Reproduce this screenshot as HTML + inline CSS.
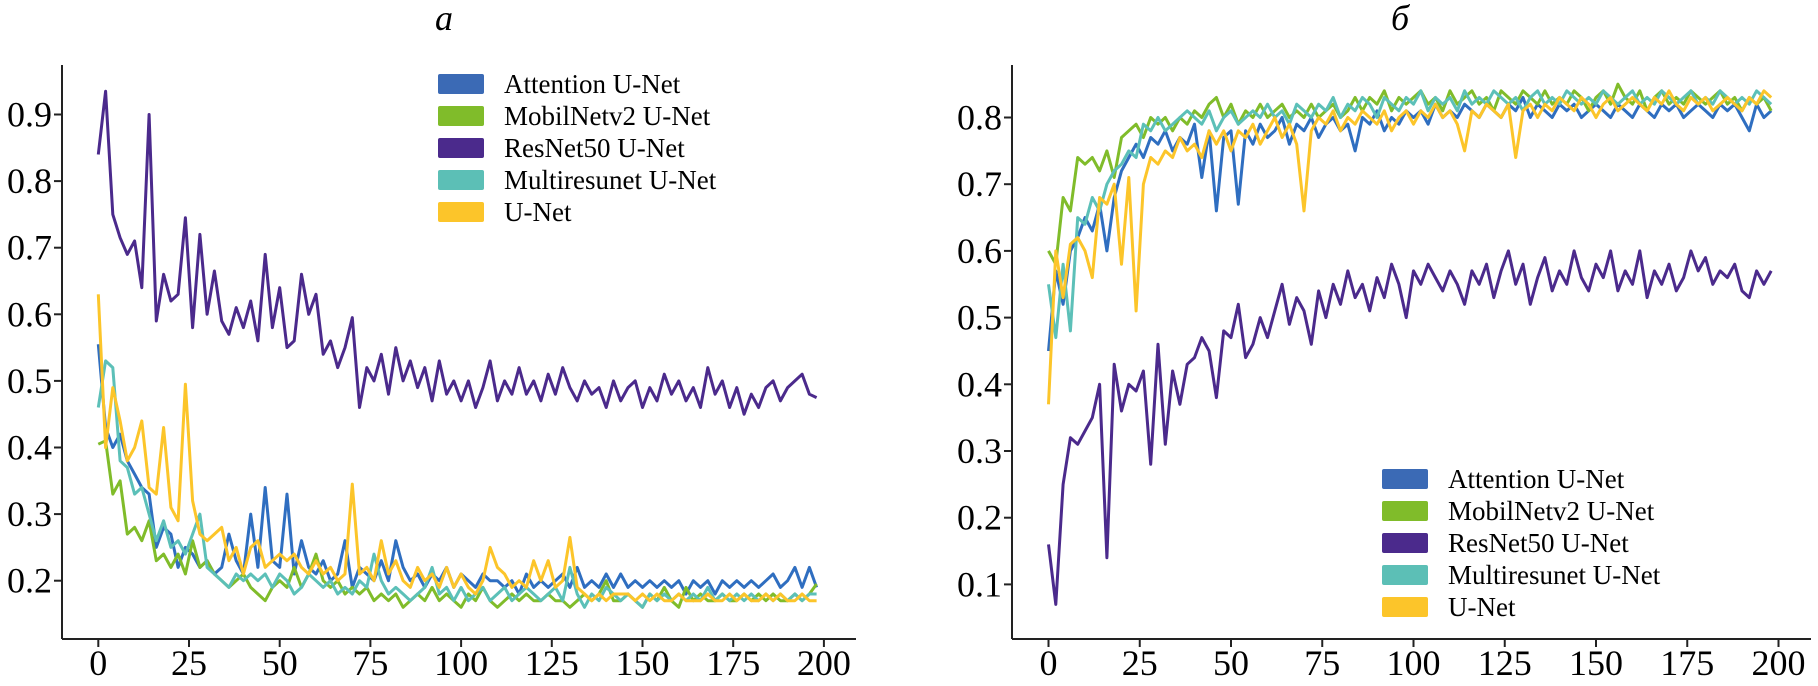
<!DOCTYPE html>
<html><head><meta charset="utf-8">
<style>
html,body{margin:0;padding:0;background:#fff;}
svg{display:block;}
svg text{font-family:"Liberation Serif","DejaVu Serif",serif;}
</style></head>
<body>
<svg id="fig" width="1818" height="686" viewBox="0 0 1818 686" xmlns="http://www.w3.org/2000/svg" font-family="Liberation Serif, serif">
<text x="444" y="30" font-size="36" font-style="italic" text-anchor="middle" font-family="Liberation Serif, serif">a</text>
<text x="1400" y="30" font-size="36" font-style="italic" text-anchor="middle" font-family="Liberation Serif, serif">б</text>
<g id="left"></g>
<g id="right"></g>
</svg>
<script>
const seriesNames = ["Attention U-Net","MobilNetv2 U-Net","ResNet50 U-Net","Multiresunet U-Net","U-Net"];
const epochs = Array.from({length:100},(_,i)=>i*2);
const xTicks = [0,25,50,75,100,125,150,175,200];
const leftYTicks = [0.2,0.3,0.4,0.5,0.6,0.7,0.8,0.9];
const rightYTicks = [0.1,0.2,0.3,0.4,0.5,0.6,0.7,0.8];

const lossAttention = [0.555,0.43,0.40,0.42,0.38,0.36,0.34,0.33,0.25,0.28,
0.27,0.22,0.25,0.24,0.22,0.23,0.21,0.22,0.27,0.23,
0.21,0.30,0.22,0.34,0.23,0.22,0.33,0.21,0.26,0.22,
0.21,0.23,0.20,0.21,0.26,0.19,0.22,0.21,0.20,0.23,
0.20,0.26,0.22,0.20,0.21,0.19,0.21,0.20,0.22,0.19,
0.21,0.20,0.19,0.21,0.20,0.20,0.19,0.20,0.18,0.21,
0.19,0.20,0.19,0.20,0.21,0.19,0.22,0.19,0.20,0.19,
0.21,0.19,0.21,0.19,0.20,0.19,0.20,0.19,0.20,0.19,
0.20,0.18,0.20,0.19,0.20,0.18,0.20,0.19,0.20,0.19,
0.20,0.19,0.20,0.21,0.19,0.20,0.22,0.19,0.22,0.19];
const lossMobil = [0.405,0.41,0.33,0.35,0.27,0.28,0.26,0.29,0.23,0.24,
0.22,0.24,0.21,0.26,0.22,0.23,0.21,0.20,0.19,0.20,
0.21,0.19,0.18,0.17,0.19,0.20,0.19,0.22,0.19,0.21,
0.24,0.20,0.19,0.20,0.18,0.19,0.18,0.19,0.17,0.18,
0.17,0.18,0.16,0.17,0.18,0.17,0.19,0.17,0.18,0.17,
0.16,0.18,0.17,0.19,0.17,0.16,0.17,0.18,0.17,0.18,
0.17,0.17,0.18,0.17,0.17,0.16,0.17,0.18,0.17,0.18,
0.20,0.17,0.17,0.18,0.17,0.16,0.18,0.17,0.19,0.17,
0.16,0.19,0.17,0.18,0.17,0.17,0.18,0.17,0.17,0.18,
0.17,0.18,0.17,0.18,0.17,0.17,0.18,0.17,0.18,0.195];
const lossResNet = [0.84,0.935,0.75,0.715,0.69,0.71,0.64,0.90,0.59,0.66,
0.62,0.63,0.745,0.58,0.72,0.60,0.665,0.59,0.57,0.61,
0.58,0.62,0.56,0.69,0.58,0.64,0.55,0.56,0.66,0.60,
0.63,0.54,0.56,0.52,0.55,0.595,0.46,0.52,0.50,0.54,
0.48,0.55,0.50,0.53,0.49,0.52,0.47,0.53,0.48,0.50,
0.47,0.50,0.46,0.49,0.53,0.47,0.50,0.48,0.52,0.48,
0.50,0.47,0.51,0.48,0.52,0.49,0.47,0.50,0.48,0.49,
0.46,0.50,0.47,0.49,0.50,0.46,0.49,0.47,0.51,0.48,
0.50,0.47,0.49,0.46,0.52,0.48,0.50,0.46,0.49,0.45,
0.48,0.46,0.49,0.50,0.47,0.49,0.50,0.51,0.48,0.475];
const lossMulti = [0.46,0.53,0.52,0.38,0.37,0.33,0.34,0.30,0.26,0.29,
0.25,0.26,0.24,0.27,0.30,0.22,0.21,0.20,0.19,0.21,
0.20,0.21,0.20,0.21,0.19,0.21,0.20,0.18,0.19,0.21,
0.20,0.19,0.20,0.18,0.19,0.18,0.20,0.19,0.24,0.20,
0.18,0.19,0.18,0.17,0.18,0.19,0.22,0.18,0.19,0.17,
0.19,0.17,0.18,0.19,0.17,0.18,0.19,0.17,0.18,0.19,
0.18,0.17,0.18,0.19,0.17,0.22,0.18,0.16,0.18,0.17,
0.19,0.18,0.17,0.18,0.17,0.16,0.18,0.17,0.18,0.17,
0.18,0.17,0.18,0.17,0.19,0.17,0.18,0.17,0.18,0.17,
0.18,0.17,0.18,0.17,0.18,0.17,0.18,0.17,0.18,0.18];
const lossUNet = [0.63,0.40,0.49,0.44,0.38,0.40,0.44,0.34,0.33,0.43,
0.31,0.29,0.495,0.32,0.27,0.26,0.27,0.28,0.23,0.25,
0.21,0.25,0.26,0.22,0.23,0.24,0.23,0.24,0.22,0.21,
0.23,0.21,0.22,0.20,0.21,0.345,0.21,0.22,0.20,0.26,
0.21,0.23,0.20,0.19,0.22,0.20,0.21,0.19,0.22,0.19,
0.21,0.19,0.18,0.20,0.25,0.22,0.21,0.19,0.20,0.19,
0.23,0.20,0.23,0.19,0.20,0.265,0.19,0.18,0.17,0.18,
0.17,0.18,0.18,0.18,0.17,0.18,0.17,0.18,0.17,0.17,
0.18,0.17,0.17,0.17,0.18,0.17,0.17,0.18,0.17,0.18,
0.17,0.17,0.18,0.17,0.18,0.17,0.17,0.18,0.17,0.17];

const metAttention = [0.45,0.57,0.52,0.60,0.62,0.65,0.63,0.67,0.60,0.68,
0.72,0.74,0.76,0.74,0.77,0.76,0.78,0.75,0.77,0.76,
0.79,0.71,0.78,0.66,0.77,0.78,0.67,0.78,0.76,0.79,
0.77,0.78,0.80,0.76,0.79,0.78,0.80,0.77,0.79,0.80,
0.78,0.79,0.75,0.80,0.79,0.81,0.78,0.80,0.79,0.81,
0.80,0.81,0.79,0.82,0.80,0.81,0.80,0.82,0.81,0.80,
0.82,0.81,0.80,0.82,0.81,0.83,0.80,0.82,0.81,0.80,
0.82,0.81,0.82,0.80,0.81,0.82,0.81,0.80,0.82,0.81,
0.80,0.82,0.81,0.80,0.82,0.81,0.82,0.80,0.81,0.82,
0.81,0.80,0.82,0.81,0.82,0.80,0.78,0.82,0.80,0.81];
const metMobil = [0.60,0.58,0.68,0.66,0.74,0.73,0.74,0.72,0.75,0.71,
0.77,0.78,0.79,0.77,0.80,0.79,0.80,0.78,0.80,0.79,
0.81,0.80,0.82,0.83,0.80,0.82,0.79,0.81,0.80,0.82,
0.80,0.81,0.82,0.80,0.81,0.80,0.82,0.80,0.81,0.82,
0.80,0.81,0.83,0.81,0.83,0.82,0.84,0.81,0.83,0.82,
0.83,0.84,0.82,0.83,0.81,0.84,0.82,0.83,0.84,0.82,
0.83,0.81,0.84,0.83,0.82,0.84,0.83,0.82,0.84,0.82,
0.83,0.82,0.84,0.83,0.81,0.83,0.84,0.82,0.85,0.83,
0.82,0.84,0.81,0.83,0.84,0.82,0.83,0.82,0.84,0.83,
0.82,0.83,0.84,0.82,0.83,0.81,0.83,0.82,0.83,0.81];
const metResNet = [0.16,0.07,0.25,0.32,0.31,0.33,0.35,0.40,0.14,0.43,
0.36,0.40,0.39,0.42,0.28,0.46,0.31,0.42,0.37,0.43,
0.44,0.47,0.45,0.38,0.48,0.47,0.52,0.44,0.46,0.50,
0.47,0.51,0.55,0.49,0.53,0.51,0.46,0.54,0.50,0.55,
0.52,0.57,0.53,0.55,0.51,0.56,0.53,0.58,0.55,0.50,
0.57,0.55,0.58,0.56,0.54,0.57,0.55,0.52,0.57,0.55,
0.58,0.53,0.57,0.60,0.55,0.58,0.52,0.56,0.59,0.54,
0.57,0.55,0.60,0.56,0.54,0.58,0.56,0.60,0.54,0.57,
0.55,0.60,0.53,0.57,0.55,0.58,0.54,0.56,0.60,0.57,
0.59,0.55,0.57,0.56,0.58,0.54,0.53,0.57,0.55,0.57];
const metMulti = [0.55,0.47,0.58,0.48,0.65,0.64,0.68,0.66,0.70,0.72,
0.73,0.75,0.74,0.79,0.78,0.80,0.78,0.79,0.80,0.81,
0.80,0.79,0.81,0.78,0.80,0.81,0.79,0.80,0.81,0.80,
0.82,0.80,0.81,0.79,0.82,0.81,0.80,0.82,0.81,0.83,
0.80,0.82,0.81,0.83,0.82,0.80,0.83,0.82,0.81,0.83,
0.82,0.84,0.81,0.83,0.82,0.83,0.81,0.84,0.82,0.83,
0.82,0.84,0.83,0.82,0.83,0.81,0.83,0.84,0.82,0.83,
0.82,0.84,0.83,0.82,0.83,0.82,0.84,0.83,0.82,0.83,
0.84,0.82,0.83,0.82,0.84,0.83,0.82,0.83,0.84,0.82,
0.83,0.82,0.84,0.83,0.82,0.83,0.82,0.84,0.83,0.82];
const metUNet = [0.37,0.60,0.53,0.61,0.62,0.60,0.56,0.68,0.67,0.70,
0.58,0.71,0.51,0.70,0.74,0.73,0.75,0.74,0.77,0.75,
0.76,0.74,0.78,0.76,0.78,0.75,0.78,0.77,0.79,0.76,
0.78,0.80,0.77,0.79,0.76,0.66,0.78,0.80,0.79,0.81,
0.78,0.80,0.79,0.81,0.80,0.79,0.81,0.78,0.80,0.81,
0.79,0.81,0.80,0.82,0.80,0.81,0.79,0.75,0.81,0.80,
0.82,0.81,0.80,0.82,0.74,0.81,0.82,0.80,0.82,0.81,
0.83,0.82,0.81,0.83,0.82,0.80,0.82,0.83,0.81,0.82,
0.83,0.82,0.81,0.83,0.82,0.84,0.82,0.81,0.83,0.82,
0.83,0.81,0.82,0.83,0.82,0.81,0.83,0.82,0.84,0.83];

const colors = ["#2f6ec0","#80bc2a","#4b2a8c","#5cc0b8","#fcc52a"];
const legendColors = ["#3b6ab5","#80bc2a","#4b2a8c","#5cbfb6","#fcc52a"];
const NS = "http://www.w3.org/2000/svg";
const SERIF = "Liberation Serif, DejaVu Serif, serif";

function mk(tag, attrs, parent){
  const e = document.createElementNS(NS, tag);
  for (const k in attrs) e.setAttribute(k, attrs[k]);
  parent.appendChild(e);
  return e;
}

function drawChart(g, cfg){
  const xs = v => cfg.x0 + v * cfg.xUnit;
  const ys = v => cfg.yRef - (v - cfg.vRef) * cfg.yUnit;
  const ya = mk("line",{x1:cfg.axL,y1:65,x2:cfg.axL,y2:639,stroke:"#222","stroke-width":2},g);
  
  
  const xa = mk("line",{x1:cfg.axL,y1:639,x2:cfg.axR,y2:639,stroke:"#222","stroke-width":2},g);
  
  
  cfg.yTicks.forEach(t=>{
    const y = ys(t);
    const tl = mk("line",{x1:cfg.axL-8,y1:y,x2:cfg.axL,y2:y,stroke:"#222","stroke-width":2},g);
    
    
    const tx = mk("text",{x:cfg.axL-10,y:y+12,"font-size":36,"text-anchor":"end","font-family":SERIF},g);
    tx.textContent = t.toFixed(1);
    
    
  });
  xTicks.forEach(t=>{
    const x = xs(t);
    const tl = mk("line",{x1:x,y1:639,x2:x,y2:647,stroke:"#222","stroke-width":2},g);
    
    
    const tx = mk("text",{x:x,y:675,"font-size":36,"text-anchor":"middle","font-family":SERIF},g);
    tx.textContent = String(t);
    
    
  });
  cfg.series.forEach((vals,i)=>{
    const pts = vals.map((v,j)=>xs(epochs[j]).toFixed(1)+","+ys(v).toFixed(1)).join(" ");
    const pl = mk("polyline",{points:pts,fill:"none",stroke:colors[i],"stroke-width":3,"stroke-linejoin":"round"},g);
    
    
  });
  const lg = mk("g",{},g);
  
  
  seriesNames.forEach((n,i)=>{
    const cy = cfg.legY + i*32;
    const r = mk("rect",{x:cfg.legX,y:cy-10,width:46,height:20,fill:legendColors[i],rx:2},lg);
    
    
    const t = mk("text",{x:cfg.legX+66,y:cy+9,"font-size":27,"font-family":SERIF},lg);
    t.textContent = n;
    
    
  });
}

drawChart(document.getElementById("left"),{
  id:"loss", x0:98.3, xUnit:3.628, axL:62, axR:856,
  yRef:580.7, vRef:0.2, yUnit:666, yTicks:leftYTicks,
  series:[lossAttention,lossMobil,lossResNet,lossMulti,lossUNet],
  legX:438, legY:84
});
drawChart(document.getElementById("right"),{
  id:"metric", x0:1048.5, xUnit:3.65, axL:1012, axR:1811,
  yRef:117.5, vRef:0.8, yUnit:667, yTicks:rightYTicks,
  series:[metAttention,metMobil,metResNet,metMulti,metUNet],
  legX:1382, legY:479
});
</script>
</body></html>
